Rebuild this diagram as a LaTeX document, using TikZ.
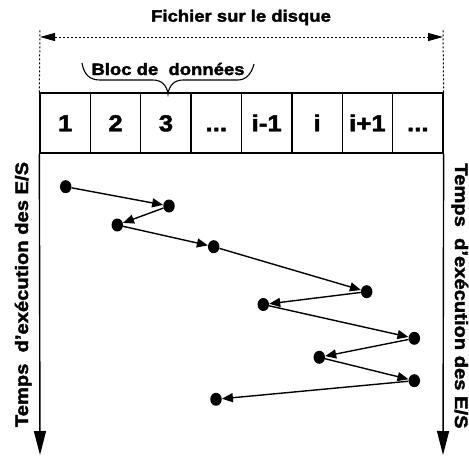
\documentclass[tikz,border=0pt]{standalone}
\usepackage{fontspec}
\setmainfont{Liberation Sans}[UprightFont={* Bold}, BoldFont={* Bold}, FakeStretch=1.12, FakeBold=2]
\usetikzlibrary{arrows.meta,shapes.geometric}
\begin{document}
\begin{tikzpicture}[x=1pt,y=-1pt,
  cell/.style={draw,line width=1.3pt,minimum width=50.375pt,minimum height=60pt,inner sep=0pt,
    text height=16.5pt,text depth=0pt,font=\fontsize{23}{23}\selectfont},
  dot/.style={ellipse,fill=black,minimum width=11.5pt,minimum height=13pt,inner sep=0pt},
  conn/.style={line width=1.4pt,-{Triangle[length=11pt,width=9pt]}},
  axis/.style={line width=1.4pt,-{Triangle[length=24pt,width=12pt]}},
  lbl/.style={font=\fontsize{16.5}{16.5}\selectfont,inner sep=0pt,anchor=base},
  vlbl/.style={font=\fontsize{18}{18}\selectfont,inner sep=0pt,anchor=base},
  dimline/.style={line width=1pt,dash pattern=on 2pt off 2pt},
]
\useasboundingbox (0,0) rectangle (469,458);

% title and dimension line
\node[lbl] (title) at (241,21.7) {Fichier sur le disque};
\coordinate (dl) at (40,37);
\coordinate (dr) at (443,37);
\draw[dimline,{Triangle[length=15pt,width=8pt]}-{Triangle[length=15pt,width=8pt]}] (dl) -- (dr);

% cells
\node[cell] (c1) at (65.19,123) {1};
\node[cell] (c2) at (115.56,123) {2};
\node[cell] (c3) at (165.94,123) {3};
\node[cell] (c4) at (216.31,123) {...};
\node[cell] (c5) at (266.69,123) {i-1};
\node[cell] (c6) at (317.06,123) {i};
\node[cell] (c7) at (367.44,123) {i+1};
\node[cell] (c8) at (417.81,123) {...};

\draw[dimline] (c1.north west) -- (40,30);
\draw[dimline] (c8.north east) -- (443,30);

% brace
\node[lbl] (bloc) at (168,75) {Bloc de\ \ données};
\draw[line width=1.1pt] (82,63) .. controls (84,75) and (90,80) .. (100,80) -- (153,80)
  .. controls (162,80) and (167,86) .. (168,94)
  .. controls (169,86) and (174,80) .. (183,80) -- (238,80)
  .. controls (247,80) and (252,72) .. (254,64);

% time axes
\coordinate (al) at (40,455);
\coordinate (ar) at (443,455);
\draw[axis] (c1.south west) -- (al);
\draw[axis] (c8.south east) -- (ar);
\node[vlbl,rotate=90] (tl) at (28,294.5) {Temps\ \ d’exécution des E/S};
\node[vlbl,rotate=-90] (tr) at (455,296) {Temps\ \ d’exécution des E/S};

% accesses
\node[dot] (p1) at (65.7,186.7) {};
\node[dot] (p2) at (169,206) {};
\node[dot] (p3) at (117.3,225) {};
\node[dot] (p4) at (213.7,246.7) {};
\node[dot] (p5) at (366.7,291.7) {};
\node[dot] (p6) at (263.3,304.5) {};
\node[dot] (p7) at (414.3,338.3) {};
\node[dot] (p8) at (319.3,357.3) {};
\node[dot] (p9) at (414.3,380.7) {};
\node[dot] (p10) at (216,399.3) {};

\draw[conn] (p1) -- (p2);
\draw[conn] (p2) -- (p3);
\draw[conn] (p3) -- (p4);
\draw[conn] (p4) -- (p5);
\draw[conn] (p5) -- (p6);
\draw[conn] (p6) -- (p7);
\draw[conn] (p7) -- (p8);
\draw[conn] (p8) -- (p9);
\draw[conn] (p9) -- (p10);
\end{tikzpicture}
\end{document}
